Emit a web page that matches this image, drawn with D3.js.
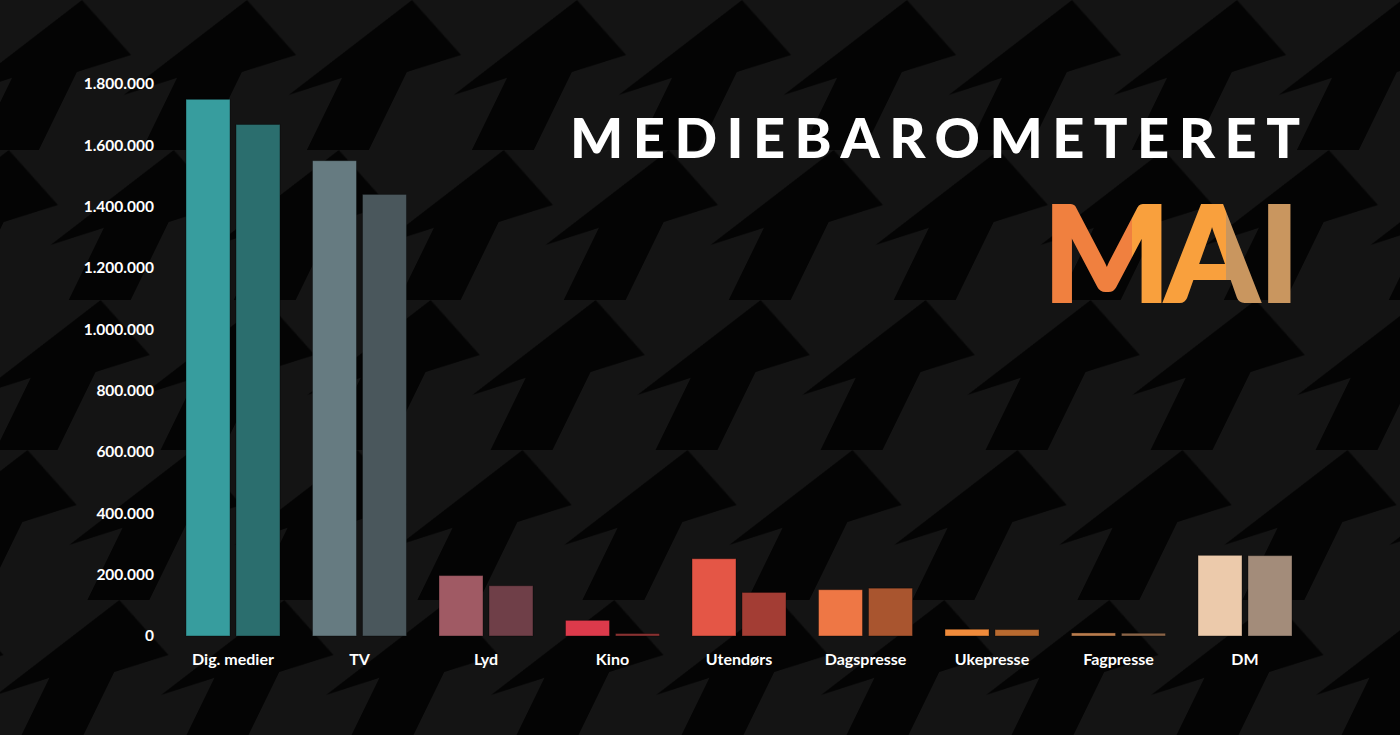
<!DOCTYPE html>
<html><head><meta charset="utf-8">
<script src="https://cdn.jsdelivr.net/npm/d3@7"></script>
<style>html,body{margin:0;padding:0;background:#121212;overflow:hidden}</style>
</head><body><svg id="chart" width="1400" height="735"></svg>
<script>
const categories = ["Dig. medier","TV","Lyd","Kino","Utendørs","Dagspresse","Ukepresse","Fagpresse","DM"];
const seriesA = [1750000,1550000,197000,51000,252000,151000,22000,10000,263000];
const seriesB = [1668000,1440000,164000,8000,142000,156000,21000,9000,262000];
const colorsA = ["#379d9e","#667b81","#a05a64","#dc3a4b","#e45646","#ee7745","#f08b3b","#b97c4d","#eccaab"];
const colorsB = ["#2b6e6e","#4a575c","#6f3f48","#8b3232","#a33d34","#a9552f","#b86a30","#8a6447","#a38c7a"];
const yTicks = [0,200000,400000,600000,800000,1000000,1200000,1400000,1600000,1800000];
const title = "MEDIEBAROMETERET";
const month = "MAI";

const W = 1400, H = 735;
const svg = d3.select("#chart");
const defs = svg.append("defs");

// background arrow pattern
const pat = defs.append("pattern").attr("id","bgpat")
  .attr("patternUnits","userSpaceOnUse").attr("width",165).attr("height",150)
  .attr("patternTransform","skewX(-26)");
pat.append("rect").attr("width",165).attr("height",150).attr("fill","#141414");
const arrow = [[50,150],[50,78],[5,95],[82,0],[158,55],[112,72],[112,150]];
[-150,0,150].forEach(dy => {
  pat.append("polygon").attr("fill","#040404")
    .attr("points", arrow.map(p => [p[0], p[1]+dy].join(",")).join(" "));
});
svg.append("rect").attr("width",W).attr("height",H).attr("fill","url(#bgpat)");

// scales
const x = d3.scaleBand().domain(categories).range([186,1292]).paddingInner(0.257).paddingOuter(0);
const inner = d3.scaleBand().domain(["a","b"]).range([0,x.bandwidth()]).paddingInner(0.12);
const y = d3.scaleLinear().domain([0,1800000]).range([636,84]);

const data = categories.map((c,i)=>({c, a:seriesA[i], b:seriesB[i], ca:colorsA[i], cb:colorsB[i]}));
const g = svg.append("g");
const grp = g.selectAll("g.grp").data(data).join("g").attr("class","grp")
  .attr("transform", d => `translate(${x(d.c)},0)`);
grp.append("rect").attr("x", inner("a")).attr("width", inner.bandwidth())
  .attr("y", d => y(d.a)).attr("height", d => y(0)-y(d.a)).attr("fill", d => d.ca)
  .attr("stroke","rgba(0,0,0,0.35)").attr("stroke-width",1);
grp.append("rect").attr("x", inner("b")).attr("width", inner.bandwidth())
  .attr("y", d => y(d.b)).attr("height", d => y(0)-y(d.b)).attr("fill", d => d.cb)
  .attr("stroke","rgba(0,0,0,0.35)").attr("stroke-width",1);

// axes
const loc = d3.formatLocale({decimal:",", thousands:".", grouping:[3], currency:["","kr"]});
const fmt = loc.format(",");
const ya = svg.append("g").attr("transform","translate(154,0)")
  .call(d3.axisLeft(y).tickValues(yTicks).tickSize(0).tickPadding(0).tickFormat(fmt));
ya.select(".domain").remove();
ya.selectAll("text").attr("fill","#fff").style("font-family","Lato, sans-serif")
  .style("font-weight","700").style("font-size","15.5px");

const xa = svg.append("g").attr("transform","translate(0,636)")
  .call(d3.axisBottom(x).tickSize(0).tickPadding(18));
xa.select(".domain").remove();
xa.selectAll("text").attr("fill","#fff").style("font-family","Lato, sans-serif")
  .style("font-weight","700").style("font-size","16px");

// title
svg.append("text").attr("x",570).attr("y",158).text(title)
  .attr("textLength",730).attr("lengthAdjust","spacing")
  .attr("fill","#fff").style("font-family","Lato, sans-serif").style("font-weight","900").style("font-size","56px");

const mg = defs.append("linearGradient").attr("id","maiGrad")
  .attr("gradientUnits","userSpaceOnUse").attr("x1",1040).attr("x2",1300).attr("y1",0).attr("y2",0);
const s1 = (1132-1040)/260, s2 = (1226-1040)/260;
[[0,"#f0803f"],[s1,"#f0803f"],[s1,"#f9a03d"],[s2,"#f9a03d"],[s2,"#c9965f"],[1,"#c9965f"]]
  .forEach(s => mg.append("stop").attr("offset",s[0]).attr("stop-color",s[1]));
svg.append("text").attr("x","1043 1165 1259").attr("y",302).text(month)
  .attr("fill","url(#maiGrad)").attr("stroke","url(#maiGrad)").attr("stroke-width",2)
  .style("font-family","Lato, sans-serif").style("font-weight","900").style("font-size","134px");
</script></body></html>
